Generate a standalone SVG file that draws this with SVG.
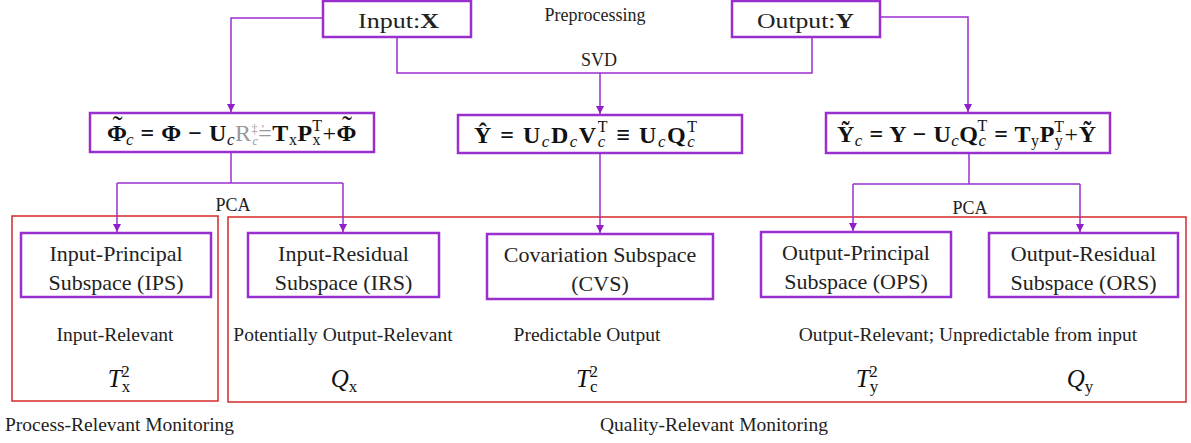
<svg xmlns="http://www.w3.org/2000/svg" width="1191" height="443" viewBox="0 0 1191 443">
<defs>
<marker id="arr" viewBox="0 0 10 10" refX="10" refY="5" markerWidth="8" markerHeight="8" markerUnits="userSpaceOnUse" orient="auto">
<path d="M0,0 L10,5 L0,10 Z" fill="#8e1fc9"/>
</marker>
<style>
.box{fill:#fff;stroke:#9a2fd0;stroke-width:2.5}
.red{fill:none;stroke:#d42a2a;stroke-width:1.5}
.con{fill:none;stroke:#9a2fd0;stroke-width:1.5}
.t{font-family:"Liberation Serif",serif;font-size:22px;fill:#222;text-anchor:middle}
.s{font-family:"Liberation Serif",serif;font-size:19.5px;fill:#222}
.e{font-family:"Liberation Serif",serif;font-size:18px;fill:#222;text-anchor:middle}
.m{font-family:"Liberation Serif",serif;font-size:24px;font-weight:bold;fill:#111}
.i{font-style:italic;font-weight:normal}
.n{font-weight:normal}
.st{font-family:"Liberation Serif",serif;font-size:25px;fill:#111;text-anchor:middle}
</style>
</defs>
<rect width="1191" height="443" fill="#fff"/>
<g id="groups">
<rect class="red" x="12" y="216" width="206" height="185" stroke="#d9534f"/>
<rect class="red" x="228" y="217" width="958" height="185"/>
</g>
<g id="connectors">
<path class="con" d="M323,18 H231 V112" marker-end="url(#arr)"/>
<path class="con" d="M397,37 V73 H812 V37"/>
<path class="con" d="M600,73 V114" marker-end="url(#arr)"/>
<path class="con" d="M880,17 H968 V112" marker-end="url(#arr)"/>
<path class="con" d="M231,152 V183"/>
<path class="con" d="M117,183 H343"/>
<path class="con" d="M117,183 V232" marker-end="url(#arr)"/>
<path class="con" d="M343,183 V232" marker-end="url(#arr)"/>
<path class="con" d="M600,153 V233" marker-end="url(#arr)"/>
<path class="con" d="M969,153 V184"/>
<path class="con" d="M853,184 H1080"/>
<path class="con" d="M853,184 V231" marker-end="url(#arr)"/>
<path class="con" d="M1080,184 V232" marker-end="url(#arr)"/>
</g>
<g id="edge-labels">
<text class="e" x="595" y="21">Preprocessing</text>
<text class="e" x="599" y="66">SVD</text>
<text class="e" x="233" y="211">PCA</text>
<text class="e" x="970" y="214">PCA</text>
</g>
<g id="input">
<rect class="box" x="323" y="1" width="148" height="36"/>
<text class="t" x="398.5" y="28" font-size="26" textLength="81" lengthAdjust="spacingAndGlyphs">Input:<tspan font-weight="bold">X</tspan></text>
</g>
<g id="output">
<rect class="box" x="732" y="1" width="148" height="36"/>
<text class="t" x="805.5" y="28" font-size="26" textLength="97" lengthAdjust="spacingAndGlyphs">Output:<tspan font-weight="bold">Y</tspan></text>
</g>
<g id="phi">
<rect class="box" x="90" y="113" width="284" height="39"/>
<text class="m" x="107" y="141" textLength="250">Φ<tspan class="n" font-size="30" dx="-15" dy="-5">˜</tspan><tspan class="i" font-size="17" dx="3" dy="9">c</tspan><tspan dy="-4"> = Φ − U</tspan><tspan class="i" font-size="17" dy="4">c</tspan><tspan class="n" fill="#999" dy="-4">R</tspan><tspan class="n" fill="#999" font-size="12" dy="-8">‡ '</tspan><tspan class="i" fill="#999" font-size="12" dx="-12" dy="12">c</tspan><tspan class="n" fill="#999" dy="-4">=</tspan><tspan>T</tspan><tspan class="n" font-size="16" dy="4">x</tspan><tspan dy="-4">P</tspan><tspan class="n" font-size="16" dy="4">x</tspan><tspan class="n" font-size="16" dx="-9" dy="-14">T</tspan><tspan class="n" dy="10">+</tspan><tspan>Φ</tspan><tspan class="n" font-size="30" dx="-15" dy="-5">˜</tspan></text>
</g>
<g id="yhat">
<rect class="box" x="458" y="115" width="284" height="38"/>
<text class="m" x="474" y="143" textLength="223">Ŷ = U<tspan class="i" font-size="17" dy="4">c</tspan><tspan dy="-4">D</tspan><tspan class="i" font-size="17" dy="4">c</tspan><tspan dy="-4">V</tspan><tspan class="i" font-size="17" dy="4">c</tspan><tspan class="n" font-size="16" dx="-9" dy="-15">T</tspan><tspan dy="11"> ≡ U</tspan><tspan class="i" font-size="17" dy="4">c</tspan><tspan dy="-4">Q</tspan><tspan class="i" font-size="17" dy="4">c</tspan><tspan class="n" font-size="16" dx="-9" dy="-15">T</tspan></text>
</g>
<g id="ytilde">
<rect class="box" x="826" y="113" width="284" height="40"/>
<text class="m" x="837" y="142" textLength="259">Ỹ<tspan class="i" font-size="17" dy="4">c</tspan><tspan dy="-4"> = Y − U</tspan><tspan class="i" font-size="17" dy="4">c</tspan><tspan dy="-4">Q</tspan><tspan class="i" font-size="17" dy="4">c</tspan><tspan class="n" font-size="16" dx="-9" dy="-15">T</tspan><tspan dy="11"> = T</tspan><tspan class="n" font-size="16" dy="4">y</tspan><tspan dy="-4">P</tspan><tspan class="n" font-size="16" dy="4">y</tspan><tspan class="n" font-size="16" dx="-9" dy="-14">T</tspan><tspan class="n" dy="10">+</tspan><tspan>Ỹ</tspan></text>
</g>
<g id="ips">
<rect class="box" x="21" y="233" width="190" height="64"/>
<text class="t" x="116" y="261">Input-Principal</text>
<text class="t" x="116" y="290">Subspace (IPS)</text>
</g>
<g id="irs">
<rect class="box" x="248" y="233" width="191" height="64"/>
<text class="t" x="343.5" y="261">Input-Residual</text>
<text class="t" x="343.5" y="290">Subspace (IRS)</text>
</g>
<g id="cvs">
<rect class="box" x="487" y="234" width="226" height="65"/>
<text class="t" x="600" y="262">Covariation Subspace</text>
<text class="t" x="600" y="291">(CVS)</text>
</g>
<g id="ops">
<rect class="box" x="761" y="232" width="190" height="65"/>
<text class="t" x="856" y="260">Output-Principal</text>
<text class="t" x="856" y="289">Subspace (OPS)</text>
</g>
<g id="ors">
<rect class="box" x="989" y="233" width="189" height="64"/>
<text class="t" x="1083.5" y="261">Output-Residual</text>
<text class="t" x="1083.5" y="290">Subspace (ORS)</text>
</g>
<g id="descriptions">
<text class="s" x="115" y="341" text-anchor="middle">Input-Relevant</text>
<text class="s" x="343" y="341" text-anchor="middle">Potentially Output-Relevant</text>
<text class="s" x="587" y="341" text-anchor="middle">Predictable Output</text>
<text class="s" x="968" y="341" text-anchor="middle">Output-Relevant; Unpredictable from input</text>
</g>
<g id="statistics">
<text class="st" x="119" y="387"><tspan font-style="italic">T</tspan><tspan font-size="17" dy="5">x</tspan><tspan font-size="17" dx="-9" dy="-15">2</tspan></text>
<text class="st" x="344" y="387"><tspan font-style="italic">Q</tspan><tspan font-size="17" dy="5">x</tspan></text>
<text class="st" x="587" y="387"><tspan font-style="italic">T</tspan><tspan font-size="17" dy="5">c</tspan><tspan font-size="17" dx="-8" dy="-15">2</tspan></text>
<text class="st" x="867" y="387"><tspan font-style="italic">T</tspan><tspan font-size="17" dy="5">y</tspan><tspan font-size="17" dx="-9" dy="-15">2</tspan></text>
<text class="st" x="1080" y="387"><tspan font-style="italic">Q</tspan><tspan font-size="17" dy="5">y</tspan></text>
</g>
<g id="group-labels">
<text class="s" x="5" y="431">Process-Relevant Monitoring</text>
<text class="s" x="600" y="431">Quality-Relevant Monitoring</text>
</g>
</svg>
